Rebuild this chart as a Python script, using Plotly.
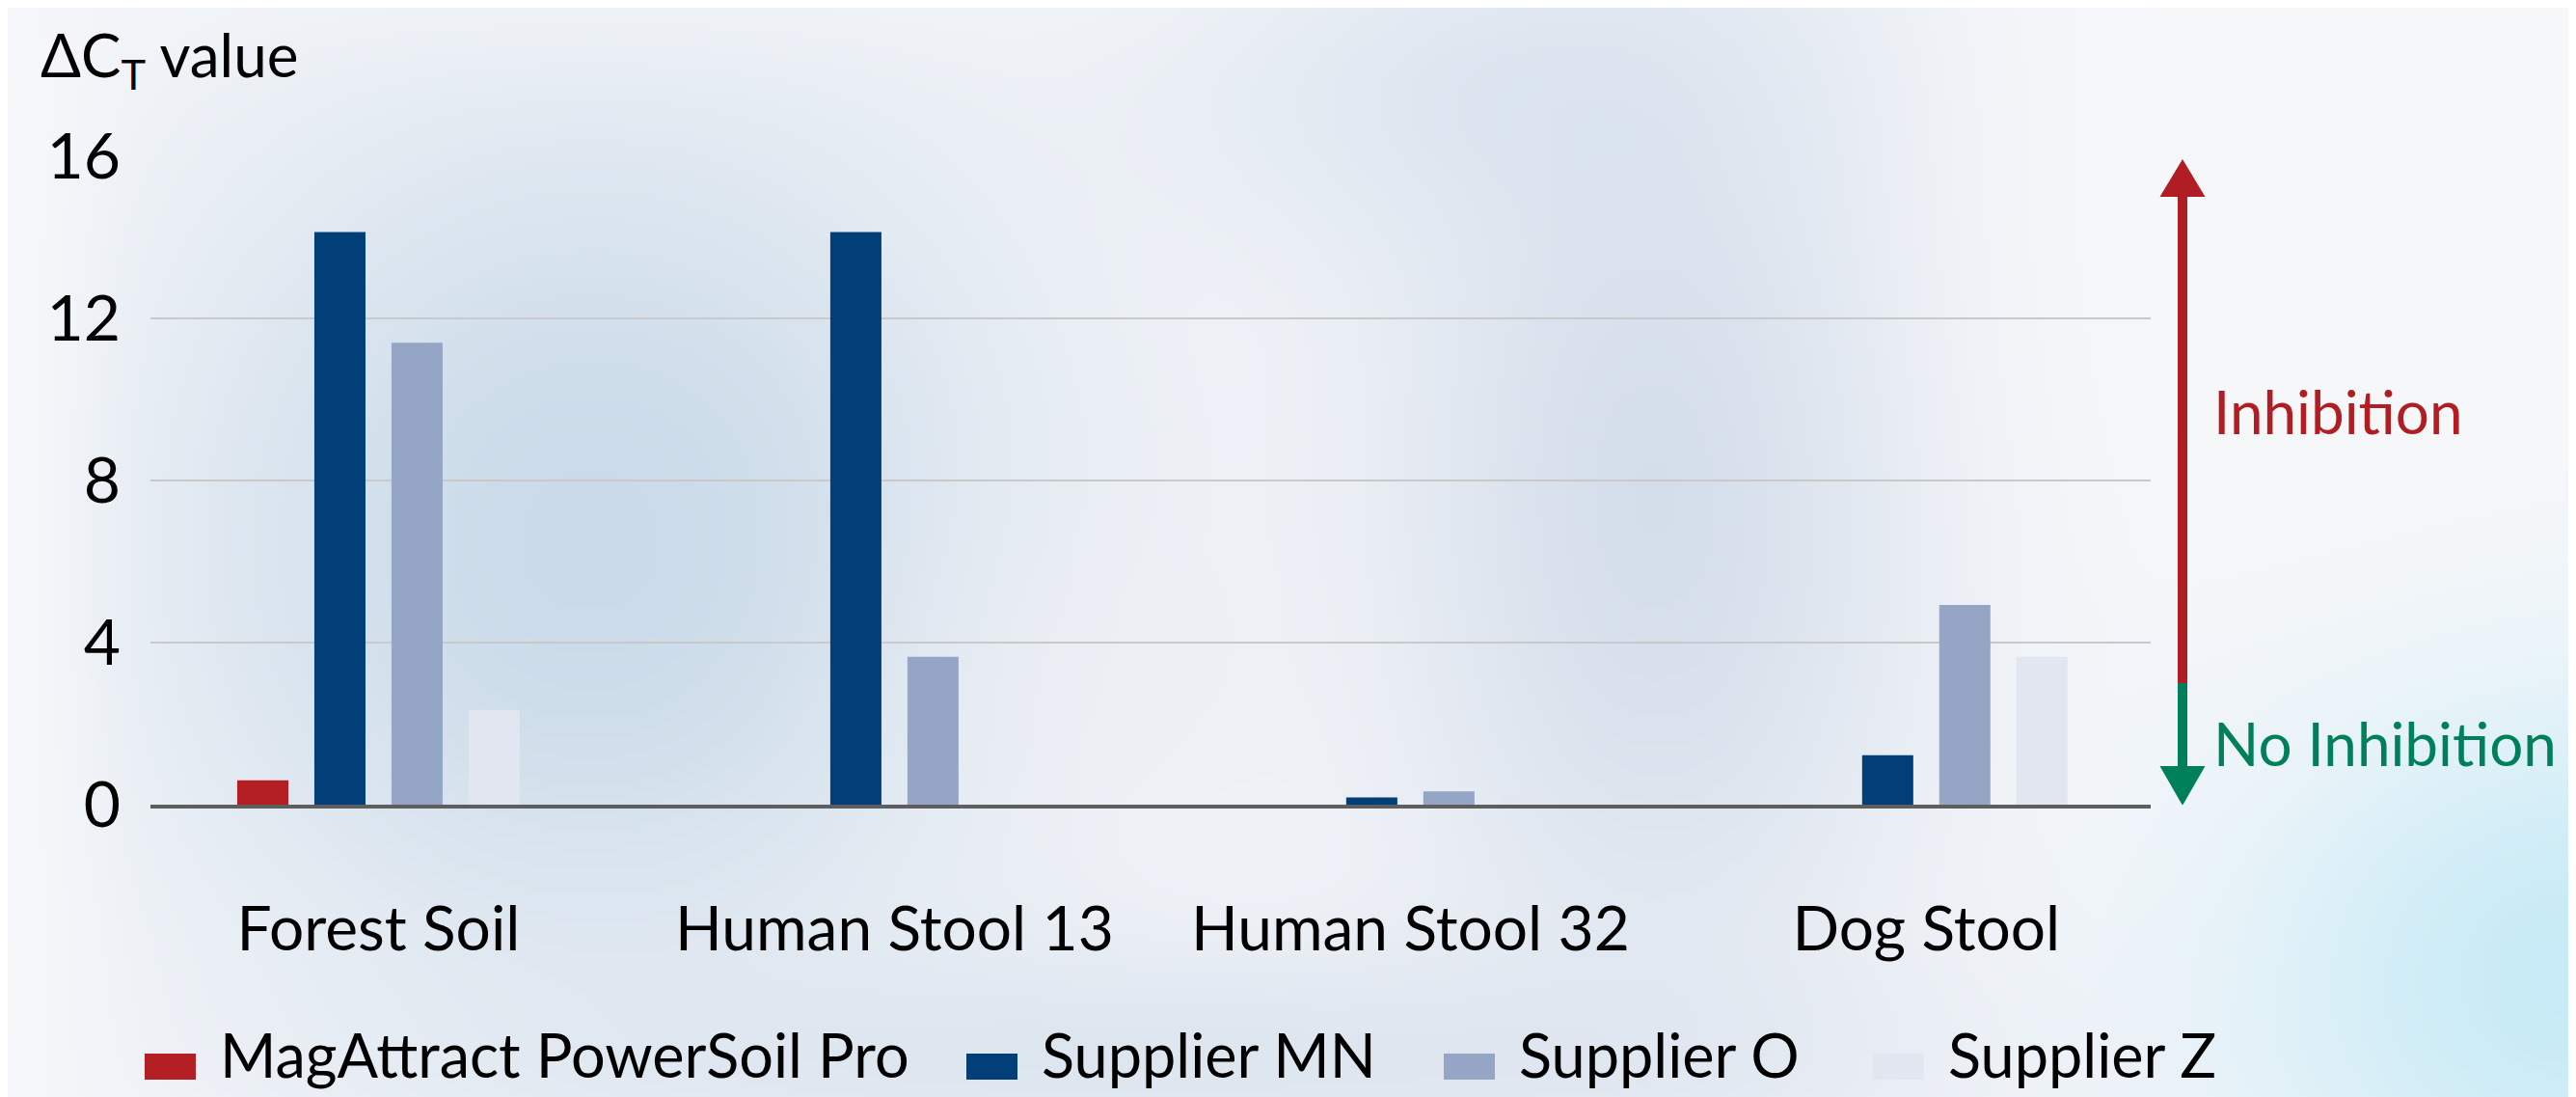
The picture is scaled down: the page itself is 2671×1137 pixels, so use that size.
import base64
import struct
import zlib

import numpy as np
import plotly.graph_objects as go

# ---------------- data ----------------
categories = ["Forest Soil", "Human Stool 13", "Human Stool 32", "Dog Stool"]
series_names = ["MagAttract PowerSoil Pro", "Supplier MN", "Supplier O", "Supplier Z"]
magattract = [0.6, 0, 0, 0]
supplier_mn = [14.13, 14.13, 0.18, 1.22]
supplier_o = [11.4, 3.65, 0.33, 4.93]
supplier_z = [2.33, 0, 0.22, 3.65]
y_ticks = [0, 4, 8, 12, 16]

series_values = [magattract, supplier_mn, supplier_o, supplier_z]
series_colors = ["#B41F23", "#023F78", "#94A5C6", "#E1E6F0"]

# ---------------- layout geometry (reference pixels) ----------------
W, H = 2671, 1137
OFF = 8                    # page offset of the figure div
L, R = 156 - OFF, 2230 - OFF
T, B = 162 - OFF, 834 - OFF
PW, PH = R - L, B - T
FONT = "Lato"


def px(x):
    return (x - OFF - L) / PW


def py(y):
    return (B - (y - OFF)) / PH


# ---------------- background image ----------------
def make_background():
    bw, bh = 334, 142
    yy, xx = np.mgrid[0:bh, 0:bw]
    u = ((xx + 0.5) / bw * W + OFF) / 1.7034
    v = ((yy + 0.5) / bh * H + OFF) / 1.7034
    img = np.ones((bh, bw, 3)) * np.array([246, 247, 250], dtype=float)

    def blob(cx, cy, rx, ry, color, strength):
        d2 = ((u - cx) / rx) ** 2 + ((v - cy) / ry) ** 2
        a = strength * np.exp(-d2)
        img[:] = img * (1 - a[..., None]) + np.array(color, dtype=float) * a[..., None]

    blob(360, 330, 280, 290, (200, 217, 232), 0.95)
    blob(1010, 300, 170, 330, (204, 216, 231), 0.8)
    blob(900, 50, 200, 100, (210, 223, 236), 0.55)
    blob(690, 410, 130, 110, (238, 239, 244), 0.65)
    blob(720, 645, 420, 70, (208, 220, 234), 0.6)
    blob(1568, 590, 200, 180, (196, 234, 246), 0.95)
    blob(1450, 150, 230, 230, (247, 248, 250), 0.85)
    blob(0, 330, 60, 500, (248, 249, 251), 0.85)
    blob(350, 0, 380, 45, (242, 244, 248), 0.6)
    arr = np.clip(img, 0, 255).astype(np.uint8)

    raw = b"".join(b"\x00" + arr[i].tobytes() for i in range(bh))

    def chunk(t, d):
        c = struct.pack(">I", len(d)) + t + d
        return c + struct.pack(">I", zlib.crc32(t + d) & 0xFFFFFFFF)

    png = (b"\x89PNG\r\n\x1a\n"
           + chunk(b"IHDR", struct.pack(">IIBBBBB", bw, bh, 8, 2, 0, 0, 0))
           + chunk(b"IDAT", zlib.compress(raw, 9))
           + chunk(b"IEND", b""))
    return "data:image/png;base64," + base64.b64encode(png).decode()


fig = go.Figure()
for name, vals, col in zip(series_names, series_values, series_colors):
    fig.add_trace(go.Bar(x=categories, y=vals, name=name, marker_color=col,
                         marker_line_width=0, showlegend=False))

shapes = []
annotations = []

# y-axis title
annotations.append(dict(text="ΔC<sub>T</sub> value", xref="paper", yref="paper",
                        x=px(40), y=py(60), xanchor="left", yanchor="middle",
                        showarrow=False, font=dict(family=FONT, size=62, color="#000000")))

# inhibition arrow (shaft + heads)
ax = px(2263)
hw = 23.5 / PW
sw = 5 / PW
shapes.append(dict(type="rect", xref="paper", yref="y", x0=ax - sw, x1=ax + sw,
                   y0=3.0, y1=15.0, fillcolor="#B01E23", line_width=0, layer="above"))
shapes.append(dict(type="rect", xref="paper", yref="y", x0=ax - sw, x1=ax + sw,
                   y0=0.9, y1=3.0, fillcolor="#00805A", line_width=0, layer="above"))
shapes.append(dict(type="path", xref="paper", yref="y",
                   path=f"M {ax - hw},15.0 L {ax + hw},15.0 L {ax},15.93 Z",
                   fillcolor="#B01E23", line_width=0, layer="above"))
shapes.append(dict(type="path", xref="paper", yref="y",
                   path=f"M {ax - hw},0.95 L {ax + hw},0.95 L {ax},-0.02 Z",
                   fillcolor="#00805A", line_width=0, layer="above"))
annotations.append(dict(text="Inhibition", xref="paper", yref="paper",
                        x=px(2293), y=py(426), xanchor="left", yanchor="middle",
                        showarrow=False, font=dict(family=FONT, size=62, color="#B01E23")))
annotations.append(dict(text="No Inhibition", xref="paper", yref="paper",
                        x=px(2293), y=py(770), xanchor="left", yanchor="middle",
                        showarrow=False, font=dict(family=FONT, size=62, color="#00805A")))

# custom legend
legend_x = [150, 1002, 1497, 1942]
for lx, name, col in zip(legend_x, series_names, series_colors):
    shapes.append(dict(type="rect", xref="paper", yref="paper",
                       x0=px(lx), x1=px(lx + 53), y0=py(1119), y1=py(1092),
                       fillcolor=col, line_width=0))
    annotations.append(dict(text=name, xref="paper", yref="paper",
                            x=px(lx + 76), y=py(1092), xanchor="left", yanchor="middle",
                            showarrow=False, font=dict(family=FONT, size=63, color="#000000")))

fig.update_layout(
    width=W, height=H,
    margin=dict(l=L, r=W - R, t=T, b=H - B, pad=0),
    paper_bgcolor="rgba(0,0,0,0)",
    plot_bgcolor="rgba(0,0,0,0)",
    barmode="group",
    bargap=0.402,
    bargroupgap=0.337,
    font=dict(family=FONT, color="#000000"),
    shapes=shapes,
    annotations=annotations,
    images=[dict(source=make_background(), xref="paper", yref="paper",
                 x=-L / PW, y=1 + T / PH, sizex=W / PW, sizey=H / PH,
                 xanchor="left", yanchor="top", sizing="stretch", layer="below")],
    xaxis=dict(type="category", range=[-0.442, 3.435], showgrid=False, zeroline=False,
               showline=True, linecolor="#5E5E5E", linewidth=4, ticks="",
               tickfont=dict(family=FONT, size=64, color="#000000"),
               ticklabelstandoff=70),
    yaxis=dict(range=[0, 16], tickvals=y_ticks, showgrid=True, gridcolor="#C9C9C9",
               gridwidth=2, zeroline=False, showline=False, ticks="",
               tickfont=dict(family=FONT, size=66, color="#000000"),
               ticklabelstandoff=30),
)

fig.write_html("out.html")
